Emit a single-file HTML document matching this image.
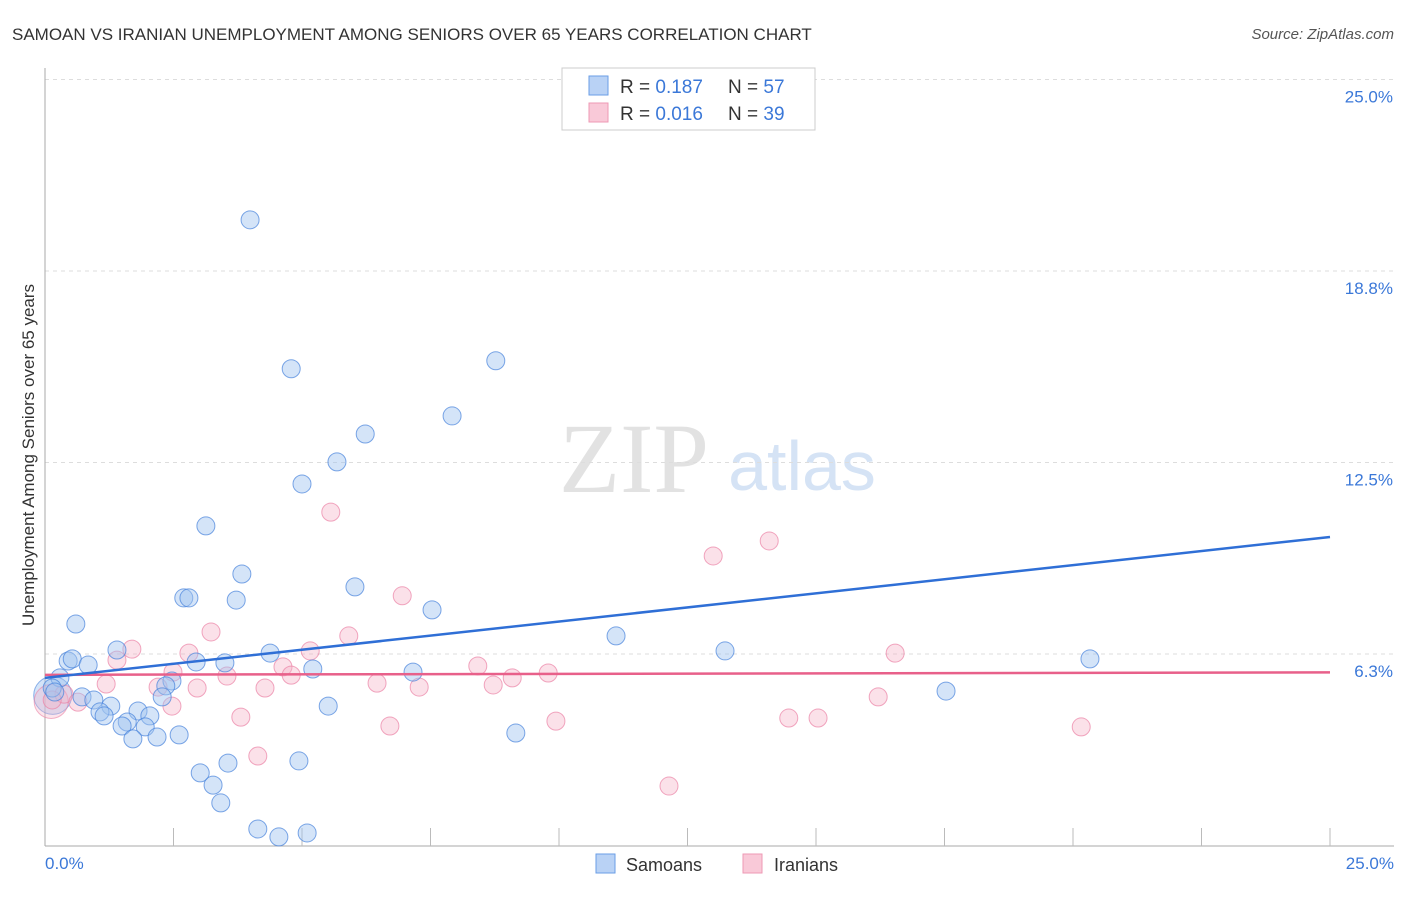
<!DOCTYPE html>
<html><head><meta charset="utf-8"><style>
body{margin:0;background:#fff;font-family:"Liberation Sans",sans-serif}
</style></head><body>
<svg id="c" width="1406" height="892" xmlns="http://www.w3.org/2000/svg" font-family="Liberation Sans, sans-serif">
<text x="12" y="40" font-size="17" fill="#333">SAMOAN VS IRANIAN UNEMPLOYMENT AMONG SENIORS OVER 65 YEARS CORRELATION CHART</text>
<text x="1394" y="39" font-size="15" fill="#555" font-style="italic" text-anchor="end">Source: ZipAtlas.com</text>
<text x="634" y="492" font-size="100" fill="#e2e2e2" style="font-family:'Liberation Serif',serif" text-anchor="middle">ZIP</text>
<text x="802" y="490" font-size="70" fill="#d5e3f5" text-anchor="middle">atlas</text>
<g id="grid"></g><g id="axes"></g><g id="pts"></g><g id="lines"></g>
<text transform="translate(34,455) rotate(-90)" font-size="17" fill="#333" text-anchor="middle">Unemployment Among Seniors over 65 years</text>
<text x="45" y="869" font-size="17" fill="#3b78d8">0.0%</text>
<text x="1394" y="869" font-size="17" fill="#3b78d8" text-anchor="end">25.0%</text>
<g>
<rect x="562" y="68" width="253" height="62" fill="#fff" stroke="#ccc"/>
<rect x="589" y="76" width="19" height="19" fill="#b9d2f5" stroke="#6a9ee6"/>
<rect x="589" y="103" width="19" height="19" fill="#f9c9d8" stroke="#ee99b4"/>
<text x="620" y="93" font-size="19" fill="#333">R = <tspan fill="#3b78d8">0.187</tspan><tspan x="728">N = </tspan><tspan fill="#3b78d8">57</tspan></text>
<text x="620" y="120" font-size="19" fill="#333">R = <tspan fill="#3b78d8">0.016</tspan><tspan x="728">N = </tspan><tspan fill="#3b78d8">39</tspan></text>
</g>
<g>
<rect x="596" y="854" width="19" height="19" fill="#b9d2f5" stroke="#6a9ee6"/>
<text x="626" y="871" font-size="18" fill="#333">Samoans</text>
<rect x="743" y="854" width="19" height="19" fill="#f9c9d8" stroke="#ee99b4"/>
<text x="774" y="871" font-size="18" fill="#333">Iranians</text>
</g>
</svg>
<script>
const yTicks=[6.25,12.5,18.75,25];
const yTickLabels=["6.3%","12.5%","18.8%","25.0%"];
const samoanX=[3.99,4.79,8.77,7.92,6.23,5.68,5.00,3.13,3.83,6.03,2.70,2.80,3.72,7.53,0.60,11.11,1.40,4.38,13.23,20.33,0.45,0.53,0.84,2.94,3.50,5.21,7.16,0.29,0.14,0.19,2.47,2.35,2.28,0.72,0.95,17.53,1.28,1.07,1.81,2.04,1.15,5.51,1.60,1.50,1.95,2.61,2.18,1.71,9.16,3.02,3.56,4.94,3.27,3.42,4.14,4.55,5.10];
const samoanY=[20.42,15.56,15.82,14.02,13.43,12.52,11.80,10.43,8.86,8.44,8.08,8.08,8.01,7.69,7.23,6.84,6.38,6.28,6.35,6.09,6.02,6.09,5.89,5.99,5.96,5.76,5.66,5.47,5.14,5.01,5.37,5.21,4.85,4.85,4.75,5.04,4.55,4.36,4.39,4.23,4.23,4.55,4.03,3.90,3.87,3.61,3.54,3.48,3.67,2.37,2.69,2.76,1.97,1.39,0.54,0.28,0.41];
const iranianX=[5.56,14.09,13.00,6.95,3.23,5.91,1.69,5.16,2.80,16.54,1.40,8.42,4.63,2.49,4.79,3.54,9.79,9.09,1.19,6.46,2.20,2.96,4.28,7.28,8.72,0.37,0.14,0.64,16.21,2.47,3.81,9.94,14.47,15.04,6.71,20.16,4.14,12.14];
const iranianY=[10.88,9.94,9.45,8.15,6.97,6.84,6.41,6.35,6.28,6.28,6.05,5.86,5.83,5.66,5.56,5.53,5.63,5.47,5.27,5.30,5.17,5.14,5.14,5.17,5.24,4.94,4.75,4.68,4.85,4.55,4.19,4.06,4.16,4.16,3.90,3.87,2.92,1.94];
const samoanTrend=[5.47,10.07];
const iranianTrend=[5.57,5.65];
const X=v=>45+v/25*1285, Y=v=>845.5-v/6.25*191.5;
const NS="http://www.w3.org/2000/svg";
function mk(t,a,p){const e=document.createElementNS(NS,t);for(const k in a)e.setAttribute(k,a[k]);document.getElementById(p).appendChild(e);return e;}
yTicks.forEach((t,i)=>{
 const g=mk('line',{x1:45,x2:1394,y1:Y(t),y2:Y(t),stroke:'#ddd','stroke-dasharray':'4,4'},'grid');
 
 
 const l=mk('text',{x:1393,y:Y(t)+23,'font-size':17,fill:'#3b78d8','text-anchor':'end'},'grid');
 l.textContent=yTickLabels[i];
 
 
});
let a=mk('line',{x1:45,x2:45,y1:68,y2:846,stroke:'#aaa'},'axes');


a=mk('line',{x1:45,x2:1394,y1:846,y2:846,stroke:'#aaa'},'axes');


for(let i=1;i<=10;i++){const t=mk('line',{x1:X(i*2.5),x2:X(i*2.5),y1:828,y2:846,stroke:'#bbb'},'axes');
 
 }
const big1=mk('circle',{cx:X(0.15),cy:Y(4.9),r:19,fill:'rgba(160,195,240,0.45)',stroke:'rgba(70,130,220,0.6)'},'pts');


const big2=mk('circle',{cx:X(0.12),cy:Y(4.7),r:17,fill:'rgba(245,180,200,0.35)',stroke:'rgba(235,130,165,0.6)'},'pts');


iranianX.forEach((v,i)=>{const c=mk('circle',{cx:X(v),cy:Y(iranianY[i]),r:9,fill:'rgba(245,180,200,0.4)',stroke:'rgba(235,130,165,0.7)'},'pts');
 
 });
samoanX.forEach((v,i)=>{const c=mk('circle',{cx:X(v),cy:Y(samoanY[i]),r:9,fill:'rgba(160,195,240,0.45)',stroke:'rgba(70,130,220,0.7)'},'pts');
 
 });
let t=mk('line',{x1:X(0),x2:X(25),y1:Y(iranianTrend[0]),y2:Y(iranianTrend[1]),stroke:'#e8608a','stroke-width':2.5},'lines');


t=mk('line',{x1:X(0),x2:X(25),y1:Y(samoanTrend[0]),y2:Y(samoanTrend[1]),stroke:'#2f6fd6','stroke-width':2.5},'lines');


</script>
</body></html>
